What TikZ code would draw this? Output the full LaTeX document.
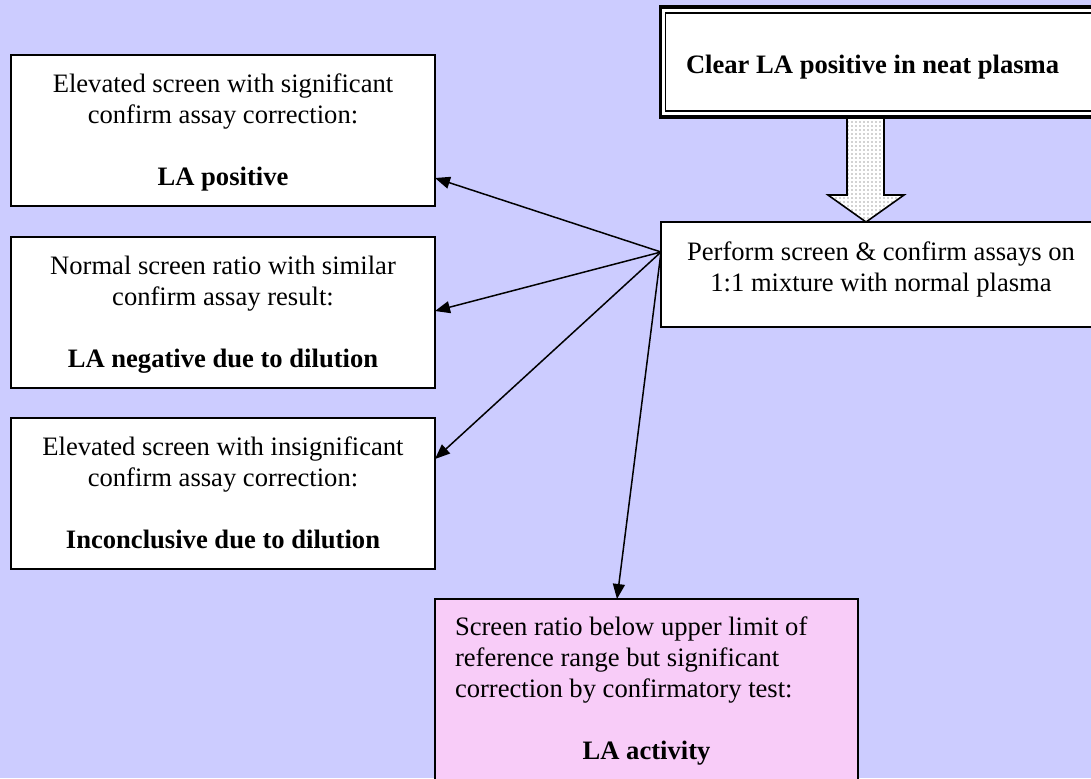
\documentclass[tikz,border=0pt]{standalone}
\usepackage{fontspec}
\setmainfont{Liberation Serif}
\usetikzlibrary{arrows.meta,calc,patterns.meta}
\definecolor{bg}{RGB}{204,204,255}
\definecolor{pinkfill}{RGB}{248,204,248}
\begin{document}
\begin{tikzpicture}[x=0.5pt,y=-0.5pt,
  every node/.style={font=\fontsize{13.3pt}{15.5pt}\selectfont, outer sep=0pt, inner sep=0pt},
  boxline/.style={draw, line width=0.8pt},
  resultbox/.style={boxline, fill=white, anchor=north west, text height=18.5pt, text depth=57pt},
  link/.style={line width=0.75pt, -{Triangle[length=7.5pt,width=6pt]}},
  blockarrow/.style={line width=0.8pt, preaction={fill=white}, pattern={Dots[distance=2pt,radius=0.45pt]}, pattern color=gray!70},
]
\useasboundingbox (0,0) rectangle (1091,778);
\clip (0,0) rectangle (1091,778);
\fill[bg] (0,0) rectangle (1091,778);

% top box (double frame)
\node[draw, line width=1.8pt, fill=white, anchor=north west, inner xsep=12.75pt, text height=33pt, text depth=22pt] (clear) at (660.5,7)
  {\parbox[t]{230pt}{\bfseries Clear LA positive in neat plasma}};
\draw[boxline] ([xshift=2.5pt,yshift=-3pt]clear.north west) rectangle ([xshift=-2.5pt,yshift=3pt]clear.south east);

% result boxes
\node[resultbox] (r1) at (11,55)
  {\parbox[t]{212pt}{\centering Elevated screen with significant\\ confirm assay correction:\\[15.5pt] \bfseries LA positive}};
\node[resultbox] (r2) at (11,237)
  {\parbox[t]{212pt}{\centering Normal screen ratio with similar\\ confirm assay result:\\[15.5pt] \bfseries LA negative due to dilution}};
\node[resultbox] (r3) at (11,418)
  {\parbox[t]{212pt}{\centering Elevated screen with insignificant\\ confirm assay correction:\\[15.5pt] \bfseries Inconclusive due to dilution}};

% perform box
\node[boxline, fill=white, anchor=north west, text height=19pt, text depth=33.5pt] (perform) at (661,222)
  {\parbox[t]{220pt}{\centering Perform screen \& confirm assays on\\ 1:1 mixture with normal plasma}};

% pink box
\node[boxline, fill=pinkfill, anchor=north west, inner xsep=10pt, text height=18pt, text depth=90pt] (pink) at (435,599)
  {\parbox[t]{191.5pt}{\raggedright Screen ratio below upper limit of\\ reference range but significant\\ correction by confirmatory test:\par\vspace{15.5pt}\centering\bfseries LA activity\par}};

% block arrow
\draw[blockarrow] ([xshift=102.5pt]perform.north west) -- ++(-38,-27) -- ++(19,0) -- ++(0,-77) -- ++(37,0) -- ++(0,77) -- ++(20,0) -- cycle;

% connectors
\coordinate (src) at ([yshift=-15pt]perform.north west);
\draw[link] (src) -- ([yshift=-23.75pt]r1.east);
\draw[link] (src) -- ([yshift=0.75pt]r2.east);
\draw[link] (src) -- ([yshift=17.25pt]r3.east);
\draw[link] (src) -- ([xshift=91pt]pink.north west);
\end{tikzpicture}
\end{document}
